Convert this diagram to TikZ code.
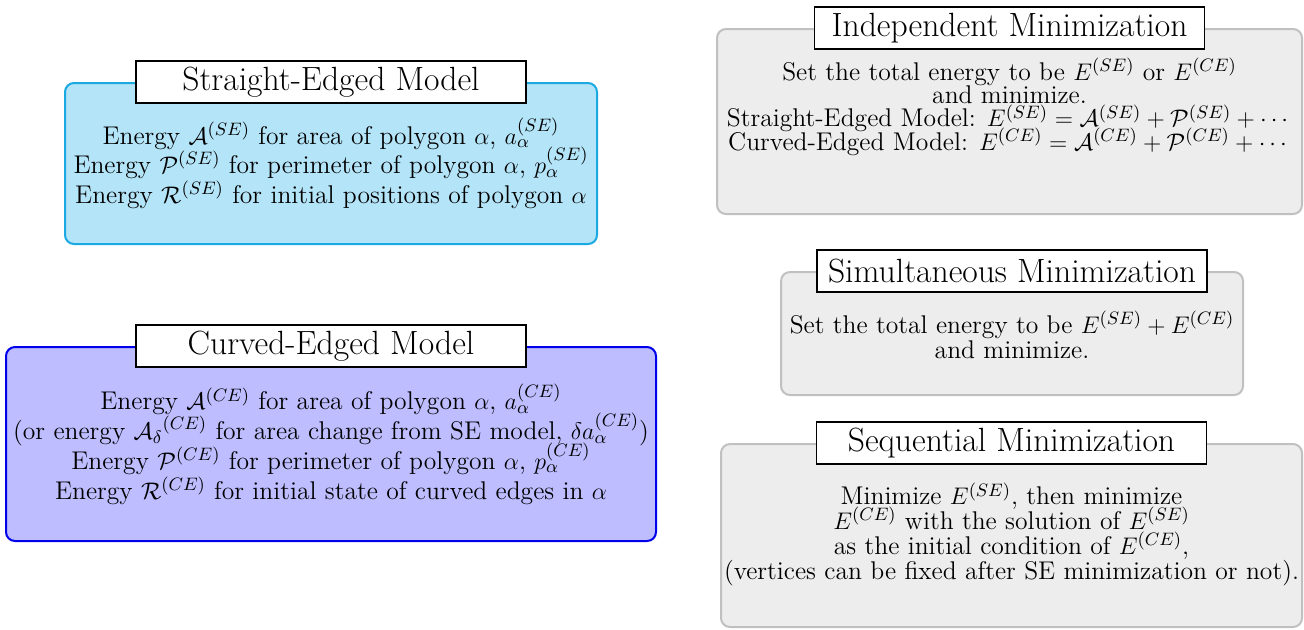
\documentclass[tikz,border=0pt]{standalone}
\usepackage{amsmath,amssymb}
\definecolor{seFill}{RGB}{180,228,248}
\definecolor{seLine}{RGB}{26,170,225}
\definecolor{ceFill}{RGB}{189,189,255}
\definecolor{ceLine}{RGB}{0,0,235}
\definecolor{mFill}{RGB}{237,237,237}
\definecolor{mLine}{RGB}{192,192,192}
\newcommand{\bodyfnt}[1]{\fontsize{12.8pt}{#1}\selectfont\lineskiplimit=-50pt\relax}
\newcommand{\titlefnt}{\fontsize{16.8pt}{19pt}\selectfont}
\begin{document}
\begin{tikzpicture}[x=0.5pt,y=-0.5pt,
  panel/.style={rounded corners=4.5pt, line width=1pt, inner sep=0pt},
  sepanel/.style={panel, draw=seLine, fill=seFill},
  cepanel/.style={panel, draw=ceLine, fill=ceFill},
  mpanel/.style={panel, draw=mLine, fill=mFill},
  ptitle/.style={draw=black, fill=white, line width=0.8pt, minimum width=195pt, minimum height=21pt, inner sep=0pt, font=\titlefnt},
  pbody/.style={anchor=base, align=center, inner sep=0pt, font={\bodyfnt{#1}}}
]
\useasboundingbox (0,0) rectangle (1304,629);
% Straight-Edged
\node[sepanel, minimum width=266pt, minimum height=80.5pt] (se) at (331,163.5) {};
\node[ptitle] (setitle) at (se.north) {Straight-Edged Model};
\node[pbody=14.75pt] (sebody) at (331,203) {Energy $\mathcal{A}^{(SE)}$ for area of polygon $\alpha$, $a_\alpha^{(SE)}$\\
Energy $\mathcal{P}^{(SE)}$ for perimeter of polygon $\alpha$, $p_\alpha^{(SE)}$\\
Energy $\mathcal{R}^{(SE)}$ for initial positions of polygon $\alpha$};
% Curved-Edged
\node[cepanel, minimum width=325pt, minimum height=97pt] (ce) at (331,444) {};
\node[ptitle] (cetitle) at (ce.north) {Curved-Edged Model};
\node[pbody=14.85pt] (cebody) at (331,499) {Energy $\mathcal{A}^{(CE)}$ for area of polygon $\alpha$, $a_\alpha^{(CE)}$\\
(or energy ${\mathcal{A}_\delta}^{(CE)}$ for area change from SE model, $\delta a_\alpha^{(CE)}$)\\
Energy $\mathcal{P}^{(CE)}$ for perimeter of polygon $\alpha$, $p_\alpha^{(CE)}$\\
Energy $\mathcal{R}^{(CE)}$ for initial state of curved edges in $\alpha$};
% Independent
\node[mpanel, minimum width=292.5pt, minimum height=92.5pt] (ind) at (1009.5,121.5) {};
\node[ptitle] (indtitle) at (ind.north) {Independent Minimization};
\node[pbody=11.6pt] (indbody) at (1009.5,150) {Set the total energy to be $E^{(SE)}$ or $E^{(CE)}$\\
and minimize.\\
Straight-Edged Model: $E^{(SE)}=\mathcal{A}^{(SE)}+\mathcal{P}^{(SE)}+\cdots$\\
Curved-Edged Model: $E^{(CE)}=\mathcal{A}^{(CE)}+\mathcal{P}^{(CE)}+\cdots$};
% Simultaneous
\node[mpanel, minimum width=231pt, minimum height=61.5pt] (sim) at (1012,333.5) {};
\node[ptitle] (simtitle) at (sim.north) {Simultaneous Minimization};
\node[pbody=12.5pt] (simbody) at (1012,358) {Set the total energy to be $E^{(SE)}+E^{(CE)}$\\
and minimize.};
% Sequential
\node[mpanel, minimum width=290.5pt, minimum height=91.5pt] (seq) at (1011.5,535.5) {};
\node[ptitle] (seqtitle) at (seq.north) {Sequential Minimization};
\node[pbody=12.35pt] (seqbody) at (1011.5,579) {Minimize $E^{(SE)}$, then minimize\\
$E^{(CE)}$ with the solution of $E^{(SE)}$\\
as the initial condition of $E^{(CE)}$,\\
(vertices can be fixed after SE minimization or not).};
\end{tikzpicture}
\end{document}
